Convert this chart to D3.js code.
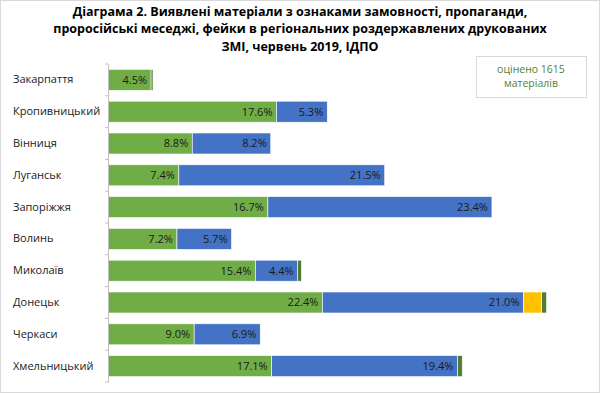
<!DOCTYPE html>
<html>
<head>
<meta charset="utf-8">
<script src="https://cdn.jsdelivr.net/npm/d3@7"></script>
<style>
  body { margin: 0; background: #fff; }
  svg { display: block; font-family: "Open Sans", "Liberation Sans", sans-serif; }
</style>
</head>
<body>
<div id="chart"></div>
<script>
// Regions (top to bottom)
const regions = ["Закарпаття", "Кропивницький", "Вінниця", "Луганськ", "Запоріжжя",
    "Волинь", "Миколаїв", "Донецьк", "Черкаси", "Хмельницький"];

// Series values, % of materials
const series1 = [4.5, 17.6, 8.8, 7.4, 16.7, 7.2, 15.4, 22.4, 9.0, 17.1];
const series2 = [0, 5.3, 8.2, 21.5, 23.4, 5.7, 4.4, 21.0, 6.9, 19.4];
const series3 = [0, 0, 0, 0, 0, 0, 0, 1.9, 0, 0];
const series4 = [0.2, 0, 0, 0, 0, 0, 0.4, 0.5, 0, 0.5];

const seriesKeys = ["s1", "s2", "s3", "s4"];
const colors = ["#70ad47", "#4472c4", "#ffc000", "#4e7d33"];
const showLabel = [true, true, false, false];

const titleLines = [
    "Діаграма 2. Виявлені матеріали з ознаками замовності, пропаганди,",
    "проросійські меседжі, фейки в регіональних роздержавлених друкованих",
    "ЗМІ, червень 2019, ІДПО"
];
const noteLines = ["оцінено 1615", "матеріалів"];

const width = 600, height = 393;
const margin = { top: 64, right: 20, bottom: 11, left: 108 };

const rows = regions.map((r, i) => ({
    region: r, s1: series1[i], s2: series2[i], s3: series3[i], s4: series4[i]
}));

const stacked = d3.stack().keys(seriesKeys)(rows);

const svg = d3.select("#chart")
    .append("svg")
    .attr("width", width)
    .attr("height", height);

// outer frame
svg.append("rect")
    .attr("x", 0.5).attr("y", 0.5)
    .attr("width", width - 1).attr("height", height - 1)
    .style("fill", "#fff")
    .style("stroke", "#d9d9d9");

const x = d3.scaleLinear()
    .domain([0, 49.3])
    .range([margin.left, width - margin.right]);

const y = d3.scaleBand()
    .domain(regions)
    .range([margin.top, height - margin.bottom])
    .paddingInner(0.34)
    .paddingOuter(0.17);

// title
svg.append("g")
    .selectAll("text")
    .data(titleLines)
    .enter()
    .append("text")
    .attr("x", 300)
    .attr("y", (d, i) => 15.5 + i * 17.5)
    .attr("text-anchor", "middle")
    .style("font-size", "12.5px")
    .style("font-weight", "bold")
    .style("fill", "#000")
    .text(d => d);

// bars
const layer = svg.selectAll("g.layer")
    .data(stacked)
    .enter()
    .append("g")
    .attr("class", "layer")
    .style("fill", (d, i) => colors[i]);

layer.selectAll("rect")
    .data(d => d)
    .enter()
    .append("rect")
    .attr("x", d => x(d[0]))
    .attr("y", d => y(d.data.region))
    .attr("width", d => Math.max(0, x(d[1]) - x(d[0])))
    .attr("height", y.bandwidth())
    .style("stroke", "#fff")
    .style("stroke-width", 0.6);

// value labels
layer.filter((d, i) => showLabel[i])
    .selectAll("text")
    .data(d => d.filter(v => v[1] - v[0] > 0))
    .enter()
    .append("text")
    .attr("x", d => x(d[1]) - 4)
    .attr("y", d => y(d.data.region) + y.bandwidth() / 2)
    .attr("dy", "0.35em")
    .attr("text-anchor", "end")
    .style("fill", "#1a1a1a")
    .style("font-size", "11px")
    .text(d => (d[1] - d[0]).toFixed(1) + "%");

// category axis
const yAxis = svg.append("g")
    .attr("transform", `translate(${margin.left},0)`)
    .call(d3.axisLeft(y).tickSize(0).tickPadding(8));

yAxis.select(".domain").style("stroke", "#bfbfbf");
yAxis.selectAll("text")
    .attr("text-anchor", "start")
    .attr("x", 13 - margin.left)
    .style("font-family", "'Open Sans', sans-serif")
    .style("font-size", "11px")
    .style("fill", "#1a1a1a");

// small boundary ticks
svg.append("g")
    .selectAll("line")
    .data(d3.range(regions.length + 1))
    .enter()
    .append("line")
    .attr("x1", margin.left - 3)
    .attr("x2", margin.left)
    .attr("y1", i => margin.top + i * y.step())
    .attr("y2", i => margin.top + i * y.step())
    .style("stroke", "#bfbfbf");

// note box
const note = svg.append("g");
note.append("rect")
    .attr("x", 476.5).attr("y", 56.5)
    .attr("width", 110).attr("height", 41)
    .style("fill", "#fff")
    .style("stroke", "#d9d9d9");
note.selectAll("text")
    .data(noteLines)
    .enter()
    .append("text")
    .attr("x", 531)
    .attr("y", (d, i) => 73 + i * 14)
    .attr("text-anchor", "middle")
    .style("font-size", "10.5px")
    .style("fill", "#538135")
    .text(d => d);
</script>
</body>
</html>
